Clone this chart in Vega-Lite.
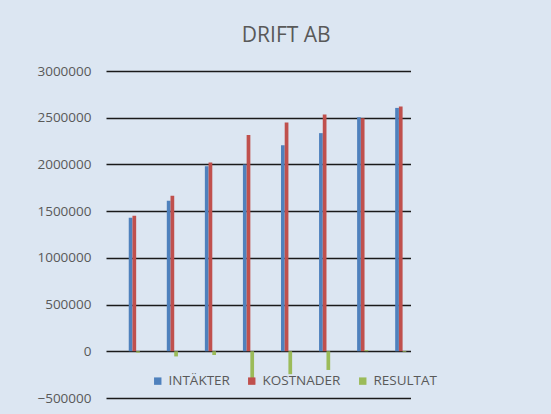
{
  "$schema": "https://vega.github.io/schema/vega-lite/v6.json",
  "width": 304.5,
  "height": 327,
  "autosize": "none",
  "padding": {"left": 106, "top": 71, "right": 140.5, "bottom": 16},
  "background": "#dce6f2",
  "title": {
    "text": "DRIFT AB",
    "font": "Open Sans",
    "fontSize": 21,
    "fontWeight": "normal",
    "color": "#595959",
    "offset": 18,
    "dx": 28
  },
  "data": {
    "values": [
      {"period": "1", "serie": "INTÄKTER", "value": 1430000},
      {"period": "1", "serie": "KOSTNADER", "value": 1450000},
      {"period": "1", "serie": "RESULTAT", "value": -15000},
      {"period": "2", "serie": "INTÄKTER", "value": 1610000},
      {"period": "2", "serie": "KOSTNADER", "value": 1665000},
      {"period": "2", "serie": "RESULTAT", "value": -55000},
      {"period": "3", "serie": "INTÄKTER", "value": 1980000},
      {"period": "3", "serie": "KOSTNADER", "value": 2020000},
      {"period": "3", "serie": "RESULTAT", "value": -40000},
      {"period": "4", "serie": "INTÄKTER", "value": 2000000},
      {"period": "4", "serie": "KOSTNADER", "value": 2315000},
      {"period": "4", "serie": "RESULTAT", "value": -310000},
      {"period": "5", "serie": "INTÄKTER", "value": 2205000},
      {"period": "5", "serie": "KOSTNADER", "value": 2450000},
      {"period": "5", "serie": "RESULTAT", "value": -245000},
      {"period": "6", "serie": "INTÄKTER", "value": 2335000},
      {"period": "6", "serie": "KOSTNADER", "value": 2535000},
      {"period": "6", "serie": "RESULTAT", "value": -200000},
      {"period": "7", "serie": "INTÄKTER", "value": 2505000},
      {"period": "7", "serie": "KOSTNADER", "value": 2495000},
      {"period": "7", "serie": "RESULTAT", "value": 12000},
      {"period": "8", "serie": "INTÄKTER", "value": 2605000},
      {"period": "8", "serie": "KOSTNADER", "value": 2620000},
      {"period": "8", "serie": "RESULTAT", "value": -8000}
    ]
  },
  "mark": {"type": "bar"},
  "encoding": {
    "x": {
      "field": "period",
      "type": "nominal",
      "scale": {"paddingInner": 0.22, "paddingOuter": 0.11},
      "axis": null
    },
    "xOffset": {
      "field": "serie",
      "type": "nominal",
      "scale": {
        "domain": ["_a", "_b", "_c", "_d", "_e", "INTÄKTER", "KOSTNADER", "RESULTAT"],
        "paddingInner": 0,
        "paddingOuter": 0
      }
    },
    "y": {
      "field": "value",
      "type": "quantitative",
      "scale": {"domain": [-500000, 3000000], "nice": false, "zero": true},
      "axis": {
        "title": null,
        "values": [-500000, 0, 500000, 1000000, 1500000, 2000000, 2500000, 3000000],
        "format": "d",
        "domain": false,
        "ticks": false,
        "labelPadding": 15,
        "labelFont": "Open Sans",
        "labelFontSize": 13.5,
        "labelColor": "#595959",
        "grid": true,
        "gridColor": "#1a1a1a",
        "gridWidth": 1.3,
        "gridOpacity": 1
      }
    },
    "color": {
      "field": "serie",
      "type": "nominal",
      "scale": {
        "domain": ["INTÄKTER", "KOSTNADER", "RESULTAT"],
        "range": ["#4f81bd", "#c0504d", "#9bbb59"]
      },
      "legend": {
        "title": null,
        "orient": "none",
        "direction": "horizontal",
        "legendX": 45,
        "legendY": 303,
        "symbolType": "square",
        "symbolSize": 55,
        "symbolStrokeWidth": 0,
        "labelFont": "Open Sans",
        "labelFontSize": 13.5,
        "labelColor": "#595959",
        "labelOffset": 4,
        "columnPadding": 15
      }
    }
  },
  "config": {
    "view": {"stroke": null}
  }
}
